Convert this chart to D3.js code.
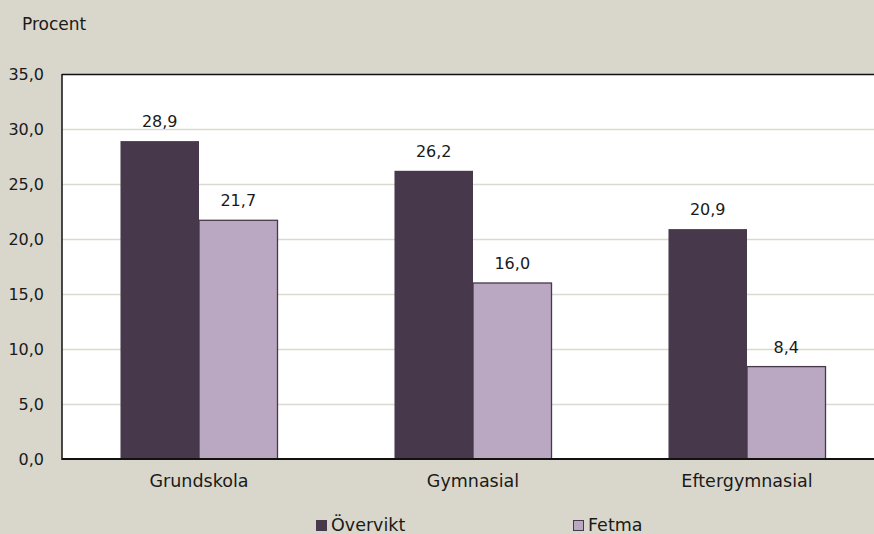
<!DOCTYPE html>
<html><head><meta charset="utf-8">
<script src="https://cdn.jsdelivr.net/npm/d3@7"></script>
<style>
html,body{margin:0;padding:0;background:#d9d7cb;}
svg{display:block;font-family:"DejaVu Sans",sans-serif;}
</style></head>
<body>
<svg id="c" width="874" height="534"></svg>
<script>
const categories = ["Grundskola", "Gymnasial", "Eftergymnasial"];
const seriesNames = ["Övervikt", "Fetma"];
const overvikt = [28.9, 26.2, 20.9];
const fetma = [21.7, 16.0, 8.4];
const yTicks = [0, 5, 10, 15, 20, 25, 30, 35];
const colors = ["#47384b", "#baa7c1"];
const seriesValues = [overvikt, fetma];

(function(){
const svg = d3.select("#c");
const W = 874, H = 534;
const mLeft = 62, mTop = 74, mBottom = 459;
const plotRight = 884;
const numSize = 16, wordSize = 17.5, ink = "#1a1a1a";

const fmt = v => v.toFixed(1).replace(".", ",");

const x = d3.scaleBand().domain(categories).range([mLeft, plotRight]).padding(0);
const x1 = d3.scaleBand().domain(seriesNames).range([0, x.bandwidth()]).paddingInner(0).paddingOuter(0.745);
const y = d3.scaleLinear().domain([0, 35]).range([mBottom, mTop]);

svg.append("rect").attr("x", mLeft).attr("y", mTop).attr("width", W - mLeft).attr("height", mBottom - mTop).attr("fill", "#ffffff");

svg.append("g").selectAll("line").data(yTicks.filter(t => t > 0 && t < 35)).join("line")
  .attr("x1", mLeft).attr("x2", W).attr("y1", d => Math.round(y(d)) + 0.5).attr("y2", d => Math.round(y(d)) + 0.5)
  .attr("stroke", "#dcd9d0").attr("stroke-width", 1.3);

const rows = categories.map((c, i) => seriesNames.map((s, j) => ({c, s, j, v: seriesValues[j][i]})));
const g = svg.append("g");
rows.flat().forEach(d => {
  const bx = x(d.c) + x1(d.s);
  g.append("rect")
    .attr("x", bx)
    .attr("y", y(d.v))
    .attr("width", x1.bandwidth())
    .attr("height", mBottom - y(d.v))
    .attr("fill", colors[d.j])
    .attr("stroke", d.j === 1 ? "#47384b" : "none")
    .attr("stroke-width", d.j === 1 ? 1.3 : 0);
  g.append("text")
    .attr("x", bx + x1.bandwidth() / 2)
    .attr("y", y(d.v) - 14)
    .attr("text-anchor", "middle")
    .attr("font-size", numSize).attr("fill", ink)
    .text(fmt(d.v));
});

svg.append("line").attr("x1", mLeft).attr("x2", W).attr("y1", mTop + 0.5).attr("y2", mTop + 0.5).attr("stroke", "#111").attr("stroke-width", 1.5);
svg.append("line").attr("x1", mLeft).attr("x2", W).attr("y1", mBottom).attr("y2", mBottom).attr("stroke", "#111").attr("stroke-width", 1.8);
svg.append("line").attr("x1", mLeft).attr("x2", mLeft).attr("y1", mTop).attr("y2", mBottom + 1).attr("stroke", "#111").attr("stroke-width", 1.5);

const yAxis = d3.axisLeft(y).tickValues(yTicks).tickFormat(fmt).tickSize(0).tickPadding(18);
const ya = svg.append("g").attr("transform", `translate(${mLeft},0)`).call(yAxis);
ya.select(".domain").remove();
ya.selectAll("text").attr("font-size", numSize).attr("fill", ink).attr("font-family", "DejaVu Sans, sans-serif").attr("dy", "0.36em");

const xAxis = d3.axisBottom(x).tickSize(0).tickPadding(16);
const xa = svg.append("g").attr("transform", `translate(0,${mBottom})`).call(xAxis);
xa.select(".domain").remove();
xa.selectAll("text").attr("font-size", wordSize).attr("fill", ink).attr("font-family", "DejaVu Sans, sans-serif");

svg.append("text").attr("x", 22).attr("y", 30).attr("font-size", 17).attr("fill", ink).text("Procent");

const legX = [316, 573];
seriesNames.forEach((s, j) => {
  svg.append("rect").attr("x", legX[j] + 0.5).attr("y", 520.5).attr("width", 10).attr("height", 10)
    .attr("fill", colors[j]).attr("stroke", "#47384b").attr("stroke-width", 1);
  svg.append("text").attr("x", legX[j] + 15).attr("y", 531).attr("font-size", wordSize).attr("fill", ink).text(s);
});
})();
</script>
</body></html>
